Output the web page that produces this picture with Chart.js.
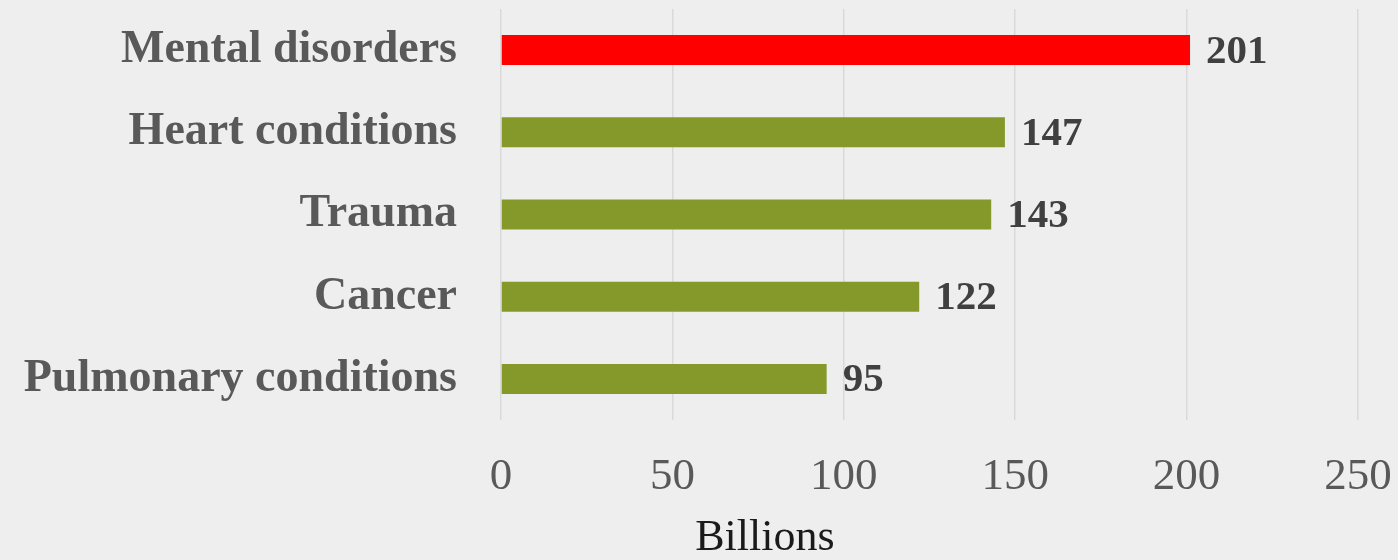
<!DOCTYPE html>
<html>
<head>
<meta charset="utf-8">
<script src="https://cdn.jsdelivr.net/npm/chart.js@4/dist/chart.umd.min.js"></script>
<style>
  html, body { margin: 0; padding: 0; background: #eeeeee; }
  #wrap { width: 1398px; height: 560px; }
</style>
</head>
<body>
<div id="wrap"><canvas id="costChart"></canvas></div>
<script>
// data
const categories = ['Mental disorders', 'Heart conditions', 'Trauma', 'Cancer', 'Pulmonary conditions'];
const costs = [201, 147, 143, 122, 95];
const barColors = ['#ff0000', '#85992b', '#85992b', '#85992b', '#85992b'];
const xTicks = [0, 50, 100, 150, 200, 250];
const axisTitle = 'Billions';

// value labels at the end of every bar
const valueLabels = {
    id: 'valueLabels',
    afterDatasetsDraw(chart) {
        const ctx = chart.ctx;
        const meta = chart.getDatasetMeta(0);
        ctx.save();
        ctx.font = 'bold 41px "Liberation Serif"';
        ctx.fillStyle = '#404040';
        ctx.textBaseline = 'middle';
        meta.data.forEach(function (bar, i) {
            ctx.fillText(costs[i], bar.x + 16, bar.y + 2);
        });
        ctx.restore();
    }
};

// axis title sits left of centre in the original
const xTitle = {
    id: 'xTitle',
    afterDraw(chart) {
        const ctx = chart.ctx;
        const x = chart.scales.x.getPixelForValue(77);
        ctx.save();
        ctx.font = '44px "Liberation Serif"';
        ctx.fillStyle = '#1a1a1a';
        ctx.textAlign = 'center';
        ctx.textBaseline = 'middle';
        ctx.fillText(axisTitle, x, 538);
        ctx.restore();
    }
};

document.addEventListener('DOMContentLoaded', function () {
    const ctx = document.getElementById('costChart').getContext('2d');
    new Chart(ctx, {
        type: 'bar',
        data: {
            labels: categories,
            datasets: [{
                data: costs,
                backgroundColor: barColors,
                borderWidth: 0,
                barPercentage: 0.365,
                categoryPercentage: 1
            }]
        },
        plugins: [valueLabels, xTitle],
        options: {
            indexAxis: 'y',
            responsive: true,
            maintainAspectRatio: false,
            animation: false,
            layout: { padding: { top: 9, right: 40, left: 0, bottom: 0 } },
            plugins: {
                legend: { display: false },
                tooltip: { enabled: false }
            },
            scales: {
                x: {
                    min: 0,
                    max: 250,
                    afterBuildTicks: function (scale) {
                        scale.ticks = xTicks.map(v => ({ value: v }));
                    },
                    afterFit: function (scale) {
                        scale.height = 140;
                        scale.paddingLeft = 0;
                        scale.paddingRight = 0;
                    },
                    grid: { color: '#d9d9d9', lineWidth: 1.5, drawTicks: false },
                    border: { display: false },
                    ticks: {
                        padding: 30,
                        color: '#595959',
                        font: { family: 'Liberation Serif', size: 45 }
                    }
                },
                y: {
                    afterFit: function (scale) {
                        scale.width = 501;
                        scale.paddingTop = 0;
                        scale.paddingBottom = 0;
                    },
                    grid: { display: false },
                    border: { display: false },
                    ticks: {
                        padding: 36,
                        color: '#595959',
                        font: { family: 'Liberation Serif', size: 46, weight: 'bold' }
                    }
                }
            }
        }
    });
});
</script>
</body>
</html>
